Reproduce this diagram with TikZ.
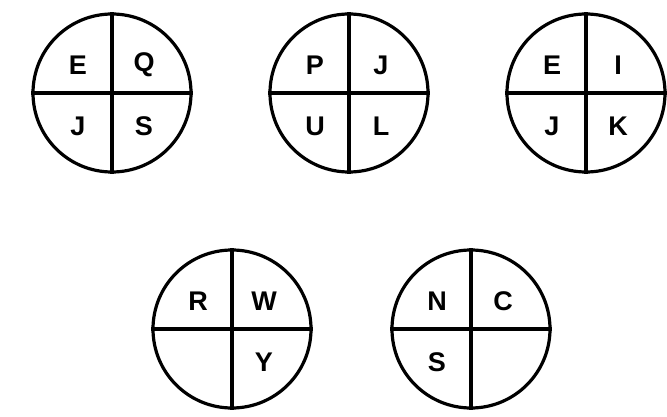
\documentclass[tikz,border=0pt]{standalone}
\usepackage{fontspec}
\setmainfont{Liberation Sans}
\begin{document}
\begin{tikzpicture}[x=1pt,y=-1pt,
  ring/.style={draw=black,line width=3.2pt,circle,minimum size=158pt,inner sep=0pt},
  cross/.style={line width=3.2pt},
  letter/.style={font=\fontsize{27}{27}\selectfont\bfseries,inner sep=0pt,anchor=center}]
\useasboundingbox (0,0) rectangle (667,417);
\foreach \nm/\cx/\cy/\a/\b/\c/\d in {c1/112/93/E/Q/J/S, c2/349/93/P/J/U/L, c3/586/93/E/I/J/K, c4/232/329/R/W//Y, c5/471/329/N/C/S/}{
  \node[ring] (\nm) at (\cx,\cy) {};
  \draw[cross] (\nm.north) -- (\nm.south);
  \draw[cross] (\nm.west) -- (\nm.east);
  \node[letter] (\nm-a) at ([xshift=-34pt,yshift=28pt]\nm.center) {\a};
  \node[letter] (\nm-b) at ([xshift=32pt,yshift=28pt]\nm.center) {\b};
  \node[letter] (\nm-c) at ([xshift=-34pt,yshift=-33pt]\nm.center) {\c};
  \node[letter] (\nm-d) at ([xshift=32pt,yshift=-33pt]\nm.center) {\d};
}
\end{tikzpicture}
\end{document}
